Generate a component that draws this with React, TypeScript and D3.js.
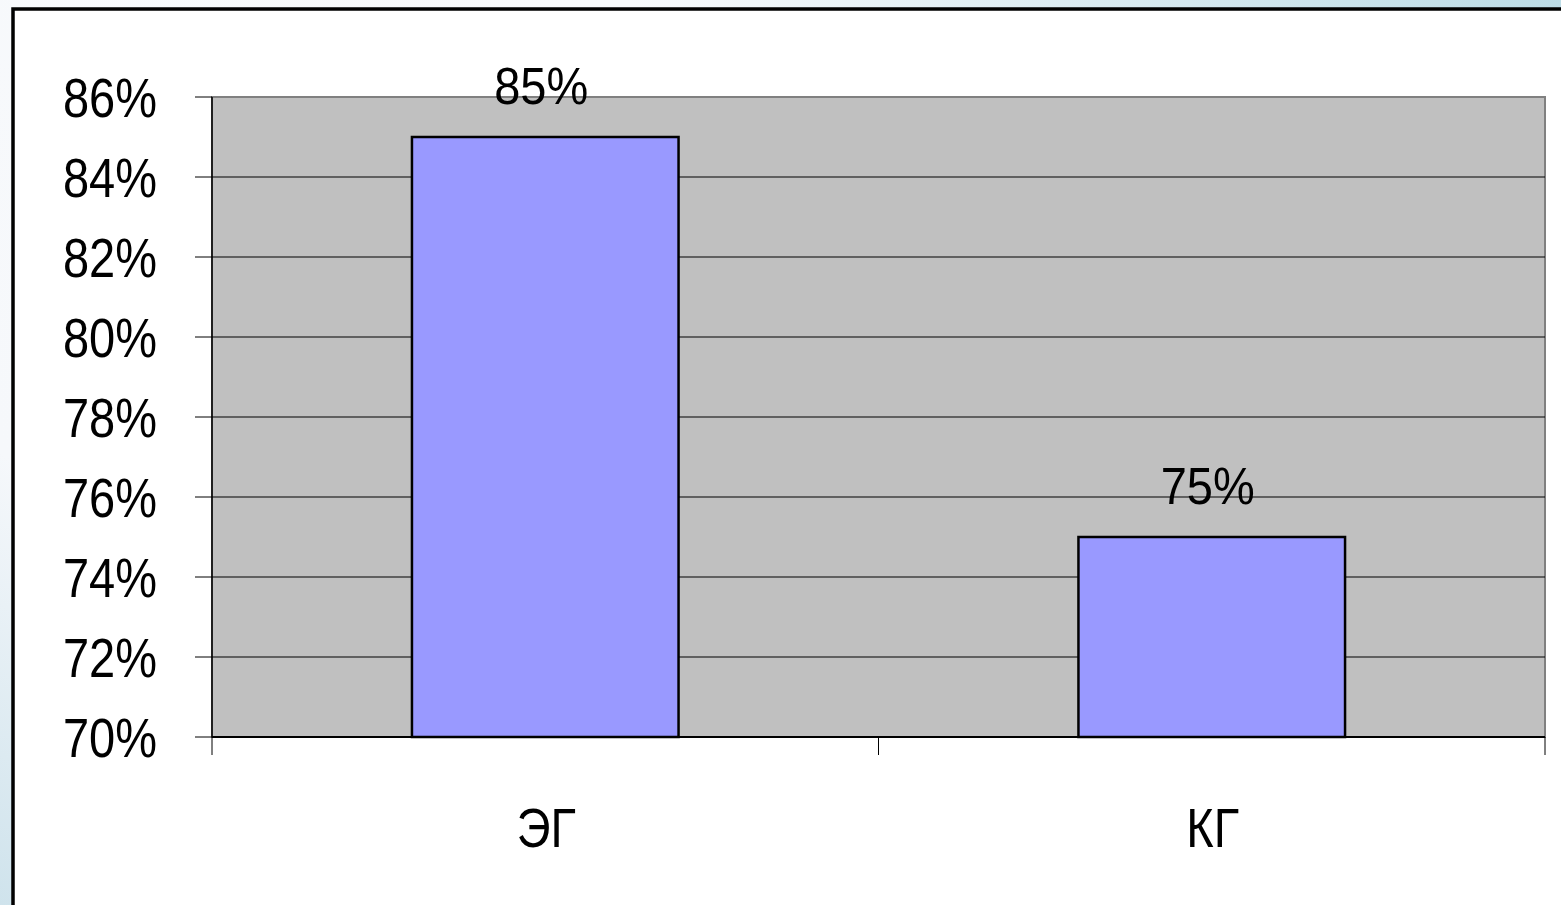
import React from "react";
import * as d3 from "d3";

const categories = ["ЭГ", "КГ"];
const values = [85, 75];
const yTicks = [70, 72, 74, 76, 78, 80, 82, 84, 86];

const W = 1561;
const H = 905;
const plot = { left: 212, top: 97, right: 1545, bottom: 737 };
const FONT = "'Liberation Sans', Arial, sans-serif";

const App: React.FC = () => {
	const x = d3
		.scaleBand<string>()
		.domain(categories)
		.range([plot.left, plot.right])
		.paddingInner(0)
		.paddingOuter(0);

	const y = d3.scaleLinear().domain([70, 86]).range([plot.bottom, plot.top]);

	const bw = x.bandwidth() / 2.5;

	return (
		<svg
			width={W}
			height={H}
			style={{ position: "absolute", left: 0, top: 0 }}
			fontFamily={FONT}
		>
			<defs>
				<linearGradient id="bg" x1="0" y1="1" x2="1" y2="0">
					<stop offset="0" stopColor="#cfe3ec" />
					<stop offset="0.25" stopColor="#f6f8fb" />
					<stop offset="0.7" stopColor="#f8fafc" />
					<stop offset="1" stopColor="#bcdce6" />
				</linearGradient>
			</defs>
			<rect x={0} y={0} width={W} height={H} fill="url(#bg)" />
			<rect
				x={13}
				y={9}
				width={W + 20}
				height={H + 20}
				fill="#ffffff"
				stroke="#000"
				strokeWidth={3.5}
			/>

			{/* plot area */}
			<rect
				x={plot.left}
				y={plot.top}
				width={plot.right - plot.left}
				height={plot.bottom - plot.top}
				fill="#c0c0c0"
				stroke="#808080"
				strokeWidth={2}
			/>

			{/* gridlines */}
			{yTicks.slice(1, -1).map((t) => (
				<line
					key={t}
					x1={plot.left}
					x2={plot.right}
					y1={y(t)}
					y2={y(t)}
					stroke="#000"
					strokeWidth={1}
				/>
			))}

			{/* bars */}
			{categories.map((c, i) => {
				const cx = (x(c) ?? 0) + x.bandwidth() / 2;
				return (
					<rect
						key={c}
						x={cx - bw / 2}
						y={y(values[i])}
						width={bw}
						height={y(70) - y(values[i])}
						fill="#9999ff"
						stroke="#000"
						strokeWidth={2.5}
					/>
				);
			})}

			{/* y axis */}
			<line
				x1={plot.left}
				x2={plot.left}
				y1={plot.top}
				y2={plot.bottom}
				stroke="#000"
				strokeWidth={1.5}
			/>
			{yTicks.map((t) => (
				<g key={t} transform={`translate(0, ${y(t)})`}>
					<line x1={195} x2={plot.left} stroke="#000" strokeWidth={1} />
					<text
						x={157}
						y={0}
						textAnchor="end"
						fontSize={47}
						transform="translate(0, 20) scale(1, 1.17)"
						transform-origin="157 0"
						fill="#000"
					>
						{`${t}%`}
					</text>
				</g>
			))}

			{/* x axis */}
			<line
				x1={plot.left}
				x2={plot.right}
				y1={plot.bottom}
				y2={plot.bottom}
				stroke="#000"
				strokeWidth={2}
			/>
			{[...categories.map((c) => x(c) ?? 0), plot.right].map((px, i) => (
				<line
					key={i}
					x1={px}
					x2={px}
					y1={plot.bottom}
					y2={plot.bottom + 18}
					stroke="#000"
					strokeWidth={1}
				/>
			))}
			{categories.map((c) => {
				const cx = (x(c) ?? 0) + x.bandwidth() / 2;
				return (
					<g key={c} transform={`translate(${cx + 1}, 847) scale(1, 1.17)`}>
						<text x={0} y={0} textAnchor="middle" fontSize={47} fill="#000">
							{c}
						</text>
					</g>
				);
			})}

			{/* value labels */}
			{categories.map((c, i) => {
				const cx = (x(c) ?? 0) + x.bandwidth() / 2;
				return (
					<g
						key={c}
						transform={`translate(${cx - 4}, ${y(values[i]) - 33}) scale(1, 1.1)`}
					>
						<text x={0} y={0} textAnchor="middle" fontSize={47} fill="#000">
							{`${values[i]}%`}
						</text>
					</g>
				);
			})}
		</svg>
	);
};

export default App;
